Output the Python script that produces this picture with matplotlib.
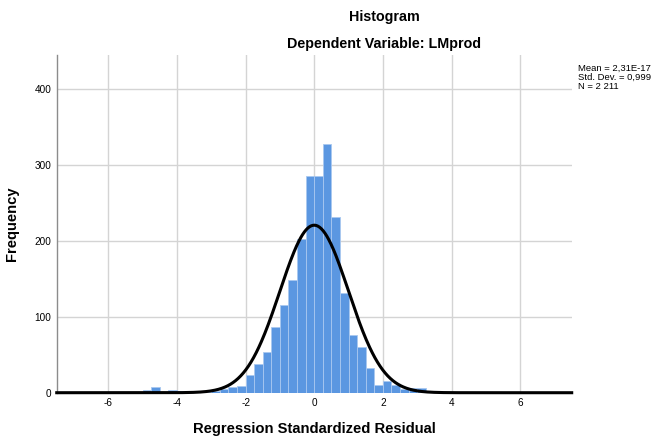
import numpy as np
import matplotlib
matplotlib.use("Agg")
import matplotlib.pyplot as plt

# Histogram counts (bin width 0.25, left edges)
bin_left = [-5.5, -5.25, -5.0, -4.75, -4.5, -4.25, -4.0, -3.75, -3.5, -3.25, -3.0,
            -2.75, -2.5, -2.25, -2.0, -1.75, -1.5, -1.25, -1.0, -0.75, -0.5, -0.25,
            0.0, 0.25, 0.5, 0.75, 1.0, 1.25, 1.5, 1.75, 2.0, 2.25, 2.5, 2.75, 3.0]
counts = [1, 1, 3, 8, 0, 3, 2, 0, 0, 1, 2,
          5, 7, 9, 23, 38, 53, 86, 115, 148, 202, 285,
          286, 328, 232, 131, 76, 60, 32, 10, 16, 10, 5, 6, 6]
bin_width = 0.25

mean = 2.31e-17
std = 0.999
n = 2211

xticks = [-6, -4, -2, 0, 2, 4, 6]
yticks = [0, 100, 200, 300, 400]

plt.rcParams['font.family'] = ['Liberation Sans', 'DejaVu Sans']
plt.rcParams['axes.unicode_minus'] = False

fig = plt.figure(figsize=(6.62, 4.41), dpi=100)
ax = fig.add_axes([0.0857, 0.1095, 0.7779, 0.7658])

ax.bar(bin_left, counts, width=bin_width, align='edge',
       color='#5b97e1', edgecolor='#a9c8f0', linewidth=0.6, zorder=2)

# normal curve scaled to counts
xs = np.linspace(-7.5, 7.5, 600)
ys = n * bin_width * np.exp(-0.5 * ((xs - mean) / std) ** 2) / (std * np.sqrt(2 * np.pi))
ax.plot(xs, ys, color='black', linewidth=2.2, zorder=3, clip_on=False)

ax.set_xlim(-7.5, 7.5)
ax.set_ylim(0, 445)
ax.set_xticks(xticks)
ax.set_yticks(yticks)
ax.tick_params(length=0, labelsize=7.2, pad=4)
ax.grid(True, color='#d4d4d4', linewidth=1.0, zorder=0)
ax.set_axisbelow(True)

for s in ['top', 'right', 'bottom']:
    ax.spines[s].set_visible(False)
ax.spines['left'].set_color('#8c8c8c')
ax.spines['left'].set_linewidth(1.0)

ax.set_xlabel('Regression Standardized Residual', fontsize=10.6, fontweight='bold', labelpad=10)
ax.set_ylabel('Frequency', fontsize=10.6, fontweight='bold', labelpad=11)

fig.text(0.58, 0.961, 'Histogram', ha='center', va='center', fontsize=10.3, fontweight='bold')
fig.text(0.58, 0.90, 'Dependent Variable: LMprod', ha='center', va='center', fontsize=10.3, fontweight='bold')

fig.text(0.873, 0.825, 'Mean = 2,31E-17\nStd. Dev. = 0,999\nN = 2 211',
         ha='left', va='center', fontsize=6.8, linespacing=1.0)

fig.savefig('out.png', dpi=100)
